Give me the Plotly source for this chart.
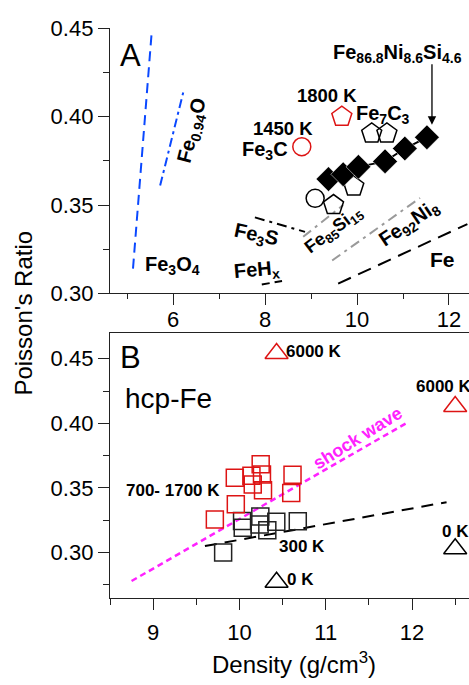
import plotly.graph_objects as go

# ---------------- Panel A: iron alloys and compounds ----------------
# Trend lines: density (g/cm3) endpoints and Poisson's ratio endpoints
fe3o4_rho = [5.13, 5.54]
fe3o4_nu = [0.314, 0.449]
feo_rho = [5.72, 6.24]
feo_nu = [0.361, 0.4156]
fe3s_rho = [7.78, 8.87]
fe3s_nu = [0.343, 0.3348]
feh_rho = [7.93, 8.37]
feh_nu = [0.305, 0.307]
fesi_rho = [8.83, 9.70]
fesi_nu = [0.332, 0.350]
feni_rho = [9.46, 11.37]
feni_nu = [0.3186, 0.354]
fe_rho = [9.59, 12.40]
fe_nu = [0.3055, 0.3392]

# Fe86.8Ni8.6Si4.6 measurements
fenisi_rho = [9.38, 9.70, 10.03, 10.61, 11.04, 11.52]
fenisi_nu = [0.3647, 0.3674, 0.3716, 0.3747, 0.382, 0.3883]

# Fe7C3 / Fe-Si open pentagons, Fe3C open circle
pent_rho = [10.32, 10.65, 9.93, 9.49]
pent_nu = [0.3905, 0.3905, 0.3605, 0.350]
circ_rho = [9.09]
circ_nu = [0.3538]

# High-temperature carbides
fe7c3_hot_rho = [9.67]
fe7c3_hot_nu = [0.400]
fe3c_hot_rho = [8.80]
fe3c_hot_nu = [0.383]

# ---------------- Panel B: hcp-Fe ----------------
sq_hot_rho = [9.715, 9.946, 9.958, 10.139, 10.154, 10.246, 10.261, 10.273, 10.615, 10.600]
sq_hot_nu = [0.3255, 0.3579, 0.3373, 0.3594, 0.3527, 0.3683, 0.3605, 0.3483, 0.3602, 0.3460]
sq_rt_rho = [9.811, 10.030, 10.038, 10.242, 10.234, 10.323, 10.427, 10.676]
sq_rt_nu = [0.3000, 0.3245, 0.3193, 0.3280, 0.3218, 0.3173, 0.3238, 0.3243]
tri_hot_rho = [10.43, 12.50]
tri_hot_nu = [0.454, 0.413]
tri_cold_rho = [10.43, 12.50]
tri_cold_nu = [0.277, 0.303]
shock_rho = [8.75, 11.93]
shock_nu = [0.278, 0.400]
rt_rho = [9.60, 12.40]
rt_nu = [0.305, 0.339]

BLUE = "#0a48ff"
GRAY = "#9a9a9a"
RED = "#dd1414"
MAG = "#ff22ff"
INK = "#000000"
FONT = "Arial, Liberation Sans, sans-serif"

fig = go.Figure()


def line(x, y, color, dash, width=2.0, ax="x", ay="y"):
    fig.add_trace(go.Scatter(x=x, y=y, mode="lines", xaxis=ax, yaxis=ay,
                             line=dict(color=color, dash=dash, width=width),
                             hoverinfo="skip", showlegend=False))


def pts(x, y, symbol, color, size, lw=1.5, ax="x", ay="y", mode="markers", lcolor=None):
    fig.add_trace(go.Scatter(x=x, y=y, mode=mode, xaxis=ax, yaxis=ay,
                             marker=dict(symbol=symbol, color=color, size=size,
                                         line=dict(width=lw, color=lcolor or color)),
                             line=dict(color=color, width=2),
                             showlegend=False, cliponaxis=False))


# Panel A lines
line(fe3o4_rho, fe3o4_nu, BLUE, "10px,6px")
line(feo_rho, feo_nu, BLUE, "9px,4px,3px,4px")
line(fe3s_rho, fe3s_nu, INK, "10px,5px,3px,5px")
line(feh_rho, feh_nu, INK, "8px,5px")
line(fesi_rho, fesi_nu, GRAY, "10px,5px,3px,5px")
line(feni_rho, feni_nu, GRAY, "10px,5px,3px,5px")
line(fe_rho, fe_nu, INK, "14px,8px")

# Panel A markers
pts(circ_rho, circ_nu, "circle-open", INK, 18)
pts(pent_rho, pent_nu, "pentagon-open", INK, 21)
pts(fenisi_rho, fenisi_nu, "diamond", INK, 19, lw=0.5, mode="lines+markers", lcolor="#ffffff")
pts(fe7c3_hot_rho, fe7c3_hot_nu, "pentagon-open", RED, 21)
pts(fe3c_hot_rho, fe3c_hot_nu, "circle-open", RED, 18)

# Panel B lines and markers
line(shock_rho, shock_nu, MAG, "6px,4px", width=2.5, ax="x2", ay="y2")
line(rt_rho, rt_nu, INK, "12px,8px", ax="x2", ay="y2")
pts(sq_rt_rho, sq_rt_nu, "square-open", "#222222", 17, ax="x2", ay="y2")
pts(sq_hot_rho, sq_hot_nu, "square-open", RED, 17, ax="x2", ay="y2")
pts(tri_hot_rho, tri_hot_nu, "triangle-up-open", RED, 20, ax="x2", ay="y2")
pts(tri_cold_rho, tri_cold_nu, "triangle-up-open", INK, 20, ax="x2", ay="y2")

annotations = []


def label(text, x, y, size, ax="x", ay="y", angle=0, color=INK, bold=True):
    annotations.append(dict(text=f"<b>{text}</b>" if bold else text, x=x, y=y,
                            xref=ax, yref=ay, showarrow=False, textangle=angle,
                            font=dict(family=FONT, size=size, color=color),
                            xanchor="center", yanchor="middle"))


# Panel A labels
label("A", 5.065, 0.4347, 31, bold=False)
label("Fe<sub>0.94</sub>O", 6.435, 0.392, 20, angle=-76)
label("Fe<sub>3</sub>O<sub>4</sub>", 5.98, 0.3158, 20)
label("Fe<sub>86.8</sub>Ni<sub>8.6</sub>Si<sub>4.6</sub>", 10.87, 0.4358, 20)
label("1800 K", 9.34, 0.412, 18.5)
label("Fe<sub>7</sub>C<sub>3</sub>", 10.57, 0.401, 20)
label("1450 K", 8.39, 0.3935, 18.5)
label("Fe<sub>3</sub>C", 8.0, 0.3808, 20)
label("Fe<sub>3</sub>S", 7.80, 0.3327, 20, angle=12)
label("FeH<sub>x</sub>", 7.83, 0.3131, 20, angle=-5)
label("Fe<sub>85</sub>Si<sub>15</sub>", 9.50, 0.3355, 18, angle=-37)
label("Fe<sub>92</sub>Ni<sub>8</sub>", 11.15, 0.3393, 20, angle=-34)
label("Fe", 11.85, 0.319, 21)
annotations.append(dict(text="", x=11.63, y=0.3955, xref="x", yref="y",
                        ax=0, ay=-62, showarrow=True, arrowhead=2, arrowsize=1.3,
                        arrowwidth=1.3, arrowcolor=INK))

# Panel B labels
label("B", 8.734, 0.451, 31, ax="x2", ay="y2", bold=False)
label("hcp-Fe", 9.173, 0.4190, 28, ax="x2", ay="y2", bold=False)
label("700- 1700 K", 9.231, 0.3478, 17, ax="x2", ay="y2")
label("300 K", 10.72, 0.3045, 17, ax="x2", ay="y2")
label("6000 K", 10.867, 0.4557, 17, ax="x2", ay="y2")
label("0 K", 10.705, 0.279, 17, ax="x2", ay="y2")
label("6000 K", 12.37, 0.4287, 17, ax="x2", ay="y2")
label("0 K", 12.50, 0.3161, 17, ax="x2", ay="y2")
label("shock wave", 11.37, 0.3887, 18, ax="x2", ay="y2", angle=-32, color=MAG)

# Shared axis titles
W, H = 469, 685
annotations.append(dict(text="Poisson's Ratio", x=24 / W, y=1 - 313 / H, xref="paper", yref="paper",
                        showarrow=False, textangle=-90, font=dict(family=FONT, size=24, color=INK),
                        xanchor="center", yanchor="middle"))
annotations.append(dict(text="Density (g/cm<sup>3</sup>)", x=294 / W, y=1 - 676 / H,
                        xref="paper", yref="paper", showarrow=False,
                        font=dict(family=FONT, size=24, color=INK),
                        xanchor="center", yanchor="middle"))

AXC = "#222222"
common = dict(showgrid=False, zeroline=False, showline=True, linecolor=AXC, linewidth=1.3,
              ticks="outside", tickcolor=AXC, tickwidth=1.3, ticklen=11,
              tickfont=dict(family=FONT, size=22, color=INK))

x_dom = [110 / W, 1.0]
fig.update_layout(
    width=W, height=H, margin=dict(l=0, r=0, t=0, b=0),
    paper_bgcolor="white", plot_bgcolor="white", showlegend=False,
    xaxis=dict(domain=x_dom, anchor="y", range=[4.63, 12.435],
               tickvals=[6, 8, 10, 12], ticklabelstandoff=-5,
               minor=dict(tickvals=[5, 7, 9, 11], ticks="outside", ticklen=5,
                          tickcolor=AXC, tickwidth=1.3),
               **common),
    xaxis3=dict(overlaying="x", anchor="y", side="top", range=[4.63, 12.435],
                tickvals=[5, 6, 7, 8, 9, 10, 11, 12], showticklabels=False,
                showgrid=False, zeroline=False, showline=True, linecolor=AXC, linewidth=1.3,
                ticks="inside", ticklen=5, tickcolor=AXC, tickwidth=1.3),
    yaxis=dict(domain=[1 - 292 / H, 1 - 17 / H], anchor="x", range=[0.30, 0.45],
               tickvals=[0.30, 0.35, 0.40, 0.45], tickformat=".2f",
               minor=dict(tickvals=[0.325, 0.375, 0.425], ticks="outside", ticklen=6,
                          tickcolor=AXC, tickwidth=1.3),
               **common),
    xaxis2=dict(domain=x_dom, anchor="y2", range=[8.5, 12.66],
                tickvals=[9, 10, 11, 12], mirror=True, ticklabelstandoff=4,
                minor=dict(tickvals=[8.5, 9.5, 10.5, 11.5, 12.5], ticks="outside", ticklen=6,
                           tickcolor=AXC, tickwidth=1.3),
                **common),
    yaxis2=dict(domain=[1 - 608 / H, 1 - 333 / H], anchor="x2", range=[0.265, 0.47],
                tickvals=[0.30, 0.35, 0.40, 0.45], tickformat=".2f",
                minor=dict(tickvals=[0.275, 0.325, 0.375, 0.425], ticks="outside", ticklen=6,
                           tickcolor=AXC, tickwidth=1.3),
                **common),
    annotations=annotations,
)

fig.write_html("out.html")
